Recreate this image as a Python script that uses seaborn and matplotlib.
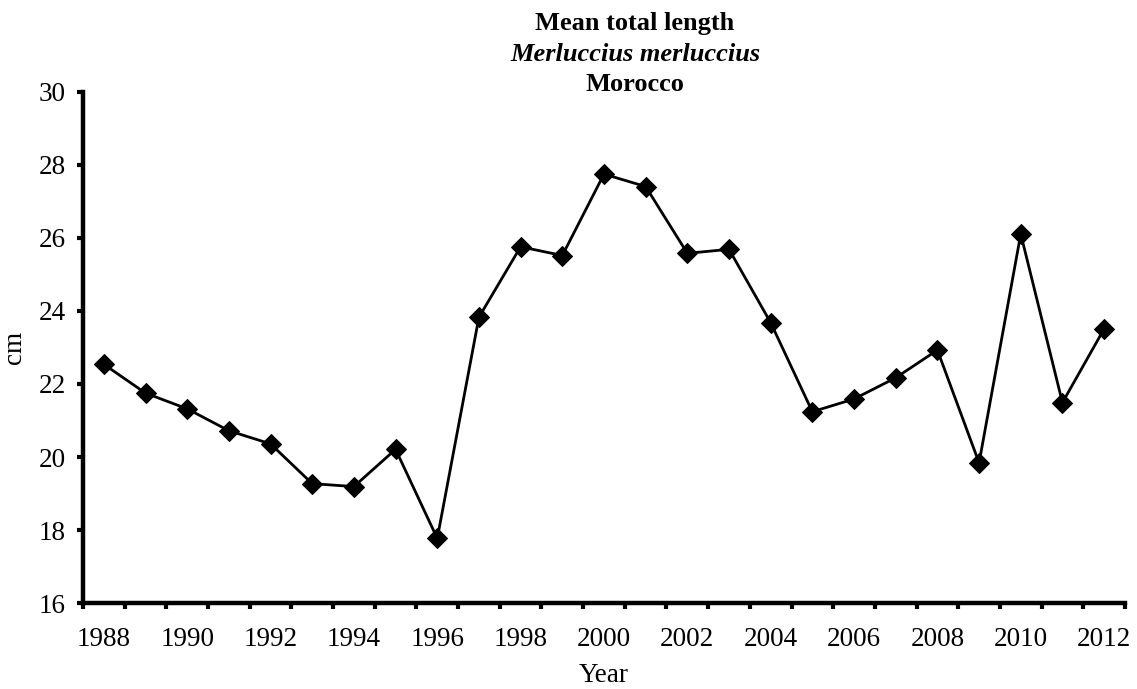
import matplotlib
matplotlib.use("Agg")
import matplotlib.pyplot as plt
import matplotlib.ticker as mticker
import seaborn as sns
import numpy as np

years = list(range(1988, 2013))
mean_length = [22.54, 21.75, 21.32, 20.72, 20.36, 19.27, 19.19, 20.21, 17.77,
               23.83, 25.76, 25.52, 27.75, 27.41, 25.58, 25.69, 23.68, 21.24,
               21.59, 22.17, 22.93, 19.84, 26.11, 21.49, 23.51]
year_labels = [str(y) for y in years[::2]]
y_ticks = [16, 18, 20, 22, 24, 26, 28, 30]

sns.set_style("ticks", {"axes.edgecolor": "black", "text.color": "black",
                        "xtick.color": "black", "ytick.color": "black",
                        "axes.labelcolor": "black"})
plt.rcParams['font.family'] = ['Liberation Serif', 'DejaVu Serif']

fig = plt.figure(figsize=(11.37, 6.89), dpi=100)
ax = fig.add_axes([0.073, 0.1248, 0.9164, 0.7417])

sns.lineplot(x=years, y=mean_length, ax=ax, color='black', linewidth=2,
             marker='D', markersize=10, markeredgecolor='black')

# category style x axis: labels on every other year, tick marks between years
ax.set_xlim(years[0] - 0.5, years[-1] + 0.5)
ax.set_xticks(years[::2])
ax.set_xticklabels(year_labels)
ax.xaxis.set_minor_locator(mticker.FixedLocator(np.arange(years[0] - 0.5, years[-1] + 1, 1)))
ax.tick_params(axis='x', which='major', length=0, pad=17, labelsize=19.5)
ax.tick_params(axis='x', which='minor', length=4.5, width=3, direction='out')

ax.set_ylim(16, 30)
ax.set_yticks(y_ticks)
ax.tick_params(axis='y', length=4.5, width=3, direction='out', pad=8, labelsize=19.5)

for side in ['top', 'right']:
    ax.spines[side].set_visible(False)
for side in ['left', 'bottom']:
    ax.spines[side].set_linewidth(3.2)

ax.set_xlabel("Year", fontsize=19.5, labelpad=8)
ax.set_ylabel("cm", fontsize=19.5, labelpad=8)

fig.text(0.5585, 1 - 30 / 689, "Mean total length", ha='center', va='baseline',
         fontsize=19, fontweight='bold')
fig.text(0.5585, 1 - 61 / 689, "Merluccius merluccius", ha='center', va='baseline',
         fontsize=19, fontweight='bold', fontstyle='italic')
fig.text(0.5585, 1 - 91 / 689, "Morocco", ha='center', va='baseline',
         fontsize=19, fontweight='bold')

fig.savefig("out.png", dpi=100)
